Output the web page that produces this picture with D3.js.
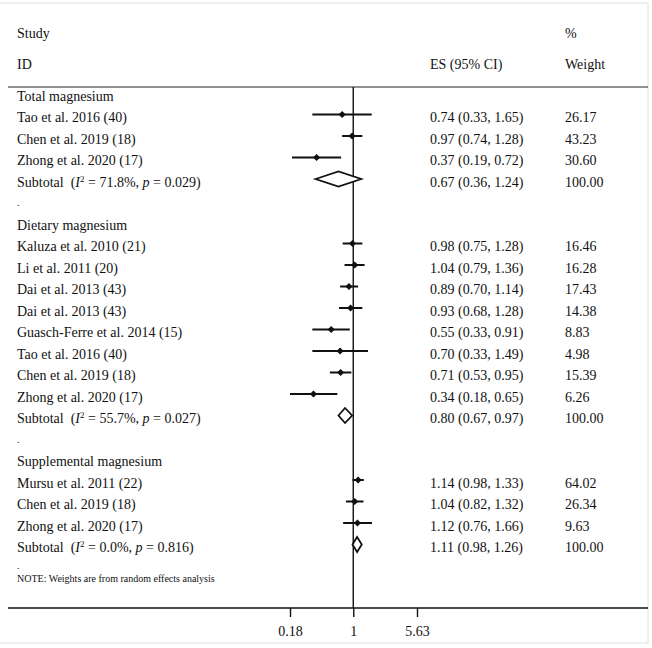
<!DOCTYPE html>
<html>
<head>
<meta charset="utf-8">
<script src="https://cdn.jsdelivr.net/npm/d3@7"></script>
<style>
  html, body { margin: 0; padding: 0; background: #fff; }
  svg text { font-family: "Liberation Serif", "Times New Roman", serif; fill: #111; }
</style>
</head>
<body>
<svg id="chart" width="652" height="648"></svg>
<script>
// ---------- DATA ----------
const groupNames = ["Total magnesium", "Dietary magnesium", "Supplemental magnesium"];

const totalStudies = ["Tao et al. 2016 (40)", "Chen et al. 2019 (18)", "Zhong et al. 2020 (17)"];
const totalES = [0.74, 0.97, 0.37];
const totalLo = [0.33, 0.74, 0.19];
const totalHi = [1.65, 1.28, 0.72];
const totalW = ["26.17", "43.23", "30.60"];

const dietStudies = ["Kaluza et al. 2010 (21)", "Li et al. 2011 (20)", "Dai et al. 2013 (43)", "Dai et al. 2013 (43)",
  "Guasch-Ferre et al. 2014 (15)", "Tao et al. 2016 (40)", "Chen et al. 2019 (18)", "Zhong et al. 2020 (17)"];
const dietES = [0.98, 1.04, 0.89, 0.93, 0.55, 0.70, 0.71, 0.34];
const dietLo = [0.75, 0.79, 0.70, 0.68, 0.33, 0.33, 0.53, 0.18];
const dietHi = [1.28, 1.36, 1.14, 1.28, 0.91, 1.49, 0.95, 0.65];
const dietW = ["16.46", "16.28", "17.43", "14.38", "8.83", "4.98", "15.39", "6.26"];

const suppStudies = ["Mursu et al. 2011 (22)", "Chen et al. 2019 (18)", "Zhong et al. 2020 (17)"];
const suppES = [1.14, 1.04, 1.12];
const suppLo = [0.98, 0.82, 0.76];
const suppHi = [1.33, 1.32, 1.66];
const suppW = ["64.02", "26.34", "9.63"];

const subtotalES = [0.67, 0.80, 1.11];
const subtotalLo = [0.36, 0.67, 0.98];
const subtotalHi = [1.24, 0.97, 1.26];
const subtotalI2 = ["71.8%", "55.7%", "0.0%"];
const subtotalP = ["0.029", "0.027", "0.816"];

const tickValues = [0.18, 1, 5.63];
const tickLabels = ["0.18", "1", "5.63"];
const noteText = "NOTE: Weights are from random effects analysis";

// ---------- BUILD ROWS ----------
const groups = [
  {studies: totalStudies, es: totalES, lo: totalLo, hi: totalHi, w: totalW},
  {studies: dietStudies, es: dietES, lo: dietLo, hi: dietHi, w: dietW},
  {studies: suppStudies, es: suppES, lo: suppLo, hi: suppHi, w: suppW}
];
const rows = [];
groups.forEach((g, gi) => {
  rows.push({type: "header", label: groupNames[gi]});
  g.studies.forEach((s, i) => rows.push({type: "study", label: s, es: g.es[i], lo: g.lo[i], hi: g.hi[i], w: g.w[i]}));
  rows.push({type: "subtotal", es: subtotalES[gi], lo: subtotalLo[gi], hi: subtotalHi[gi], i2: subtotalI2[gi], p: subtotalP[gi], w: "100.00"});
  rows.push({type: "dot"});
});

// ---------- LAYOUT ----------
const svg = d3.select("#chart");
const fmt = d3.format(".2f");
const x = d3.scaleLog().domain([0.18, 5.63]).range([290, 417]);
const y = d3.scaleLinear().domain([0, rows.length - 1]).range([93, 93 + 21.5 * (rows.length - 1)]);
const textDy = 7.5;
const colLabel = 17, colES = 430, colW = 565;
const headerLineY = 87, axisY = 608;

// frame (faint)
svg.append("rect").attr("x", -2).attr("y", 3).attr("width", 650).attr("height", 640)
  .attr("fill", "none").attr("stroke", "#e4e4e4").attr("stroke-width", 1.2);

// header
const hdr = svg.append("g").attr("font-size", 14);
hdr.append("text").attr("x", colLabel).attr("y", 38).text("Study");
hdr.append("text").attr("x", colLabel).attr("y", 69).text("ID");
hdr.append("text").attr("x", colES).attr("y", 69).text("ES (95% CI)");
hdr.append("text").attr("x", colW).attr("y", 38).text("%");
hdr.append("text").attr("x", colW).attr("y", 69).text("Weight");

svg.append("line").attr("x1", 8).attr("x2", 648).attr("y1", headerLineY).attr("y2", headerLineY)
  .attr("stroke", "#222").attr("stroke-width", 1);

// null line
svg.append("line").attr("x1", x(1)).attr("x2", x(1)).attr("y1", headerLineY).attr("y2", axisY)
  .attr("stroke", "#111").attr("stroke-width", 1.4);

// rows
const rowG = svg.append("g").attr("font-size", 14);
const lastIdx = rows.length - 1;
rows.forEach((r, i) => {
  const yy = y(i);
  if (r.type === "header") {
    rowG.append("text").attr("x", colLabel).attr("y", yy + textDy).text(r.label);
  } else if (r.type === "dot") {
    const dy = i === lastIdx ? 2.5 : textDy - 2;
    rowG.append("text").attr("x", colLabel).attr("y", yy + dy).attr("font-size", 10).text(".");
  } else if (r.type === "study") {
    rowG.append("text").attr("x", colLabel).attr("y", yy + textDy).text(r.label);
    rowG.append("line").attr("x1", x(r.lo)).attr("x2", x(r.hi)).attr("y1", yy).attr("y2", yy)
      .attr("stroke", "#111").attr("stroke-width", 2);
    const cx = x(r.es), h = 3.6;
    rowG.append("path").attr("d", `M${cx - h},${yy} L${cx},${yy - h} L${cx + h},${yy} L${cx},${yy + h} Z`)
      .attr("fill", "#111");
    rowG.append("text").attr("x", colES).attr("y", yy + textDy)
      .text(`${fmt(r.es)} (${fmt(r.lo)}, ${fmt(r.hi)})`);
    rowG.append("text").attr("x", colW).attr("y", yy + textDy).text(r.w);
  } else if (r.type === "subtotal") {
    const t = rowG.append("text").attr("x", colLabel).attr("y", yy + textDy).attr("xml:space", "preserve");
    t.append("tspan").text("Subtotal  (");
    t.append("tspan").attr("font-style", "italic").text("I");
    t.append("tspan").attr("font-size", 9).attr("dy", -5).text("2");
    t.append("tspan").attr("dy", 5).text(` = ${r.i2}, `);
    t.append("tspan").attr("font-style", "italic").text("p");
    t.append("tspan").text(` = ${r.p})`);
    const h = 7.5;
    rowG.append("path")
      .attr("d", `M${x(r.lo)},${yy} L${x(r.es)},${yy - h} L${x(r.hi)},${yy} L${x(r.es)},${yy + h} Z`)
      .attr("fill", "#fff").attr("stroke", "#111").attr("stroke-width", 1.8).attr("stroke-linejoin", "miter");
    rowG.append("text").attr("x", colES).attr("y", yy + textDy)
      .text(`${fmt(r.es)} (${fmt(r.lo)}, ${fmt(r.hi)})`);
    rowG.append("text").attr("x", colW).attr("y", yy + textDy).text(r.w);
  }
});

// note
const noteY = y(lastIdx);
svg.append("text").attr("x", colLabel).attr("y", noteY + 16).attr("font-size", 10).text(noteText);

// axis
svg.append("line").attr("x1", 8).attr("x2", 648).attr("y1", axisY).attr("y2", axisY)
  .attr("stroke", "#111").attr("stroke-width", 1.4);
const axis = d3.axisBottom(x).tickValues(tickValues)
  .tickFormat((d, i) => tickLabels[i]).tickSize(9).tickPadding(9);
const ag = svg.append("g").attr("transform", `translate(0,${axisY})`).call(axis);
ag.select(".domain").remove();
ag.selectAll(".tick line").attr("stroke", "#111").attr("stroke-width", 1.4);
ag.selectAll(".tick text").attr("font-size", 14).attr("font-family", "Liberation Serif, Times New Roman, serif").attr("fill", "#111");
</script>
</body>
</html>
